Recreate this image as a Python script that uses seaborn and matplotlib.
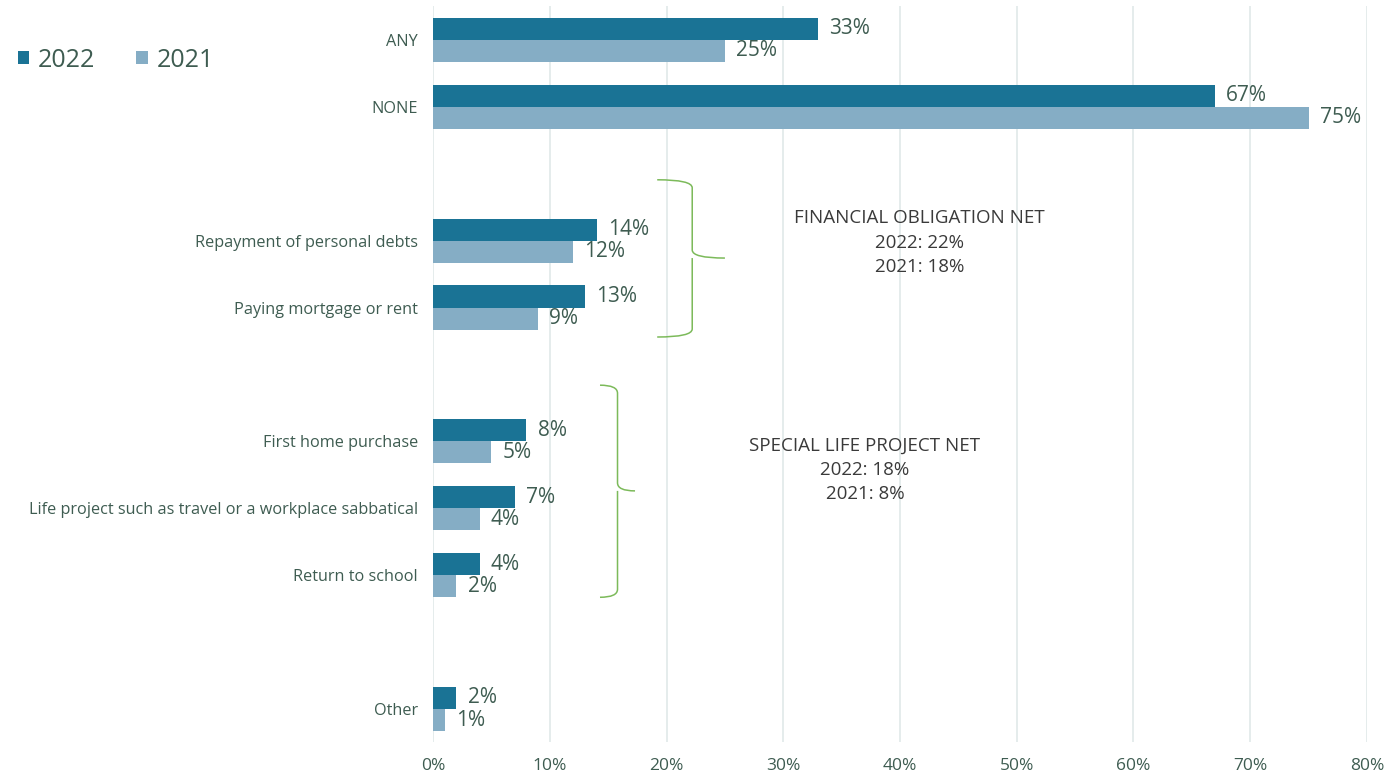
import matplotlib
matplotlib.use("Agg")
import matplotlib.pyplot as plt
import seaborn as sns
import pandas as pd
import numpy as np
from matplotlib.path import Path
from matplotlib.patches import PathPatch, Patch

# ---- data ----
categories = ["ANY", "NONE", " ", "Repayment of personal debts", "Paying mortgage or rent",
              "  ", "First home purchase", "Life project such as travel or a workplace sabbatical",
              "Return to school", "   ", "Other"]
data_categories = ["ANY", "NONE", "Repayment of personal debts", "Paying mortgage or rent",
                   "First home purchase", "Life project such as travel or a workplace sabbatical",
                   "Return to school", "Other"]
values_2022 = [33, 67, 14, 13, 8, 7, 4, 2]
values_2021 = [25, 75, 12, 9, 5, 4, 2, 1]
series = ["2022", "2021"]
x_ticks = [0, 10, 20, 30, 40, 50, 60, 70, 80]
x_tick_labels = ["0%", "10%", "20%", "30%", "40%", "50%", "60%", "70%", "80%"]
net_texts = ["FINANCIAL OBLIGATION NET\n2022: 22%\n2021: 18%",
             "SPECIAL LIFE PROJECT NET\n2022: 18%\n2021: 8%"]

df = pd.DataFrame({
    "category": data_categories * 2,
    "value": values_2022 + values_2021,
    "year": ["2022"] * len(data_categories) + ["2021"] * len(data_categories),
})

# ---- style ----
sns.set_theme(style="white")
plt.rcParams["font.family"] = ["Open Sans", "DejaVu Sans"]
c2022 = "#1a7395"
c2021 = "#85adc5"
label_col = "#3e5c51"
grid_col = "#e0e9e9"
brace_col = "#7cba5a"

fig = plt.figure(figsize=(13.97, 7.73), dpi=100)
ax = fig.add_axes([0.310, 0.0395, 0.6685, 0.9521])

sns.barplot(data=df, y="category", x="value", hue="year", order=categories,
            hue_order=series, palette=[c2022, c2021], width=0.66, gap=0,
            saturation=1, orient="h", ax=ax, legend=False, edgecolor="none")

ax.set_xlim(0, 80)
ax.set_ylim(len(categories) - 0.5, -0.5)
ax.set_xticks(x_ticks)
ax.set_xticklabels(x_tick_labels, fontsize=12.5, color=label_col)
ax.set_yticks(range(len(categories)))
ax.set_yticklabels([c if c.strip() else "" for c in categories], fontsize=11.7, color=label_col)
ax.set_xlabel("")
ax.set_ylabel("")
ax.tick_params(axis="y", length=0, pad=11)
ax.tick_params(axis="x", length=0, pad=11)
for s in ax.spines.values():
    s.set_visible(False)
ax.set_axisbelow(True)
ax.xaxis.grid(True, color=grid_col, linewidth=1.2)
ax.yaxis.grid(False)

# value labels
for cont in ax.containers:
    ax.bar_label(cont, labels=[f"{v:.0f}%" for v in cont.datavalues], padding=8,
                 fontsize=15, color=label_col)

# braces
def brace(ax, x0, xm, xt, y0, y1, ym):
    r = 0.12
    verts = [(x0, y0), (xm, y0), (xm, y0 + r),
             (xm, ym - r), (xm, ym), (xt, ym),
             (xm, ym), (xm, ym + r),
             (xm, y1 - r), (xm, y1), (x0, y1)]
    codes = [Path.MOVETO, Path.CURVE3, Path.CURVE3,
             Path.LINETO, Path.CURVE3, Path.CURVE3,
             Path.MOVETO, Path.LINETO,
             Path.LINETO, Path.CURVE3, Path.CURVE3]
    ax.add_patch(PathPatch(Path(verts, codes), fill=False, edgecolor=brace_col, linewidth=1.1))

brace(ax, 19.2, 22.2, 25.0, 2.09, 4.44, 3.26)
brace(ax, 14.3, 15.8, 17.3, 5.16, 8.33, 6.74)

ax.text(41.7, 3.03, net_texts[0], ha="center", va="center", fontsize=13.5,
        color="#3a3a3a", linespacing=1.45)
ax.text(37.0, 6.43, net_texts[1], ha="center", va="center", fontsize=13.5,
        color="#3a3a3a", linespacing=1.45)

# legend
handles = [Patch(facecolor=c2022, edgecolor="none"), Patch(facecolor=c2021, edgecolor="none")]
leg = fig.legend(handles, series, loc="upper left", bbox_to_anchor=(0.0, 0.961), ncol=2,
                 frameon=False, fontsize=18, handlelength=0.45, handleheight=0.45,
                 handletextpad=0.35, columnspacing=1.66, borderaxespad=0.3)
for t in leg.get_texts():
    t.set_color(label_col)

fig.savefig("out.png", dpi=100)
